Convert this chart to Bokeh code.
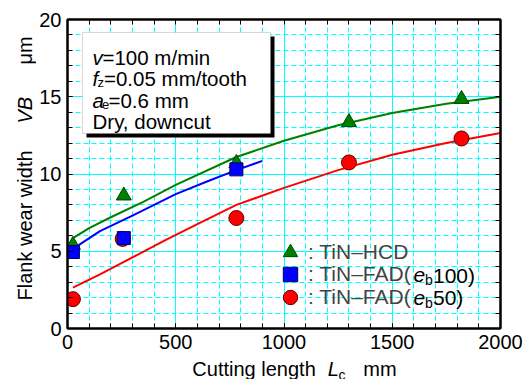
import math
from bokeh.plotting import figure
from bokeh.layouts import row, column
from bokeh.models import (Range1d, LinearAxis, FixedTicker, Grid, Label,
                          BoxAnnotation, Legend, LegendItem)
from bokeh.embed import file_html
from bokeh.resources import INLINE

# ---------------- data ----------------
hcd_L = [25, 260, 780, 1300, 1820]
hcd_VB = [5.4, 8.6, 10.7, 13.35, 14.85]
fad100_L = [25, 260, 780]
fad100_VB = [4.95, 5.85, 10.3]
fad50_L = [25, 255, 780, 1300, 1820]
fad50_VB = [1.9, 5.8, 7.15, 10.75, 12.3]

hcd_fit_L = [25, 100, 200, 350, 500, 780, 1000, 1250, 1500, 1750, 2000]
hcd_fit_VB = [5.85, 6.5, 7.2, 8.2, 9.3, 11.1, 12.15, 13.15, 13.95, 14.55, 15.0]
fad100_fit_L = [25, 150, 300, 500, 650, 780, 900]
fad100_fit_VB = [5.15, 6.3, 7.3, 8.7, 9.55, 10.25, 10.85]
fad50_fit_L = [25, 150, 300, 450, 600, 780, 1000, 1250, 1500, 1750, 2000]
fad50_fit_VB = [2.65, 3.5, 4.6, 5.7, 6.75, 8.0, 9.1, 10.25, 11.25, 12.0, 12.65]

x_ticks = [0, 500, 1000, 1500, 2000]
y_ticks = [0, 5, 10, 15, 20]
x_minor = list(range(0, 2001, 100))
y_minor = list(range(0, 21, 1))

series_labels = [": TiN\u2013HCD", ": TiN\u2013FAD(", ": TiN\u2013FAD("]

# ---------------- layout (canvas pixels) ----------------
W, H = 525, 379
LW = 36            # left strip holding the y title
BH = 19            # bottom strip holding the x title
PW, PH = W - LW, H - BH
FL, FR, FT, FB = 67, 500, 19, 328     # frame edges on the page
X0, X1, Y0, Y1 = 0, 2000, 0, 20
FONT = "Liberation Sans"

def dx(px):
    return X0 + (px - FL) / (FR - FL) * (X1 - X0)

def dy(py):
    return Y0 + (FB - py) / (FB - FT) * (Y1 - Y0)

def drop_default_grids(f):
    f.center = [r for r in f.center if not isinstance(r, Grid)]

p = figure(width=PW, height=PH, x_range=Range1d(X0, X1), y_range=Range1d(Y0, Y1),
           output_backend="svg", toolbar_location=None,
           min_border_left=FL - LW, min_border_right=W - FR,
           min_border_top=FT, min_border_bottom=PH - FB,
           x_axis_location=None, y_axis_location=None)
drop_default_grids(p)
p.outline_line_color = "black"
p.outline_line_width = 2
p.background_fill_color = "white"
p.border_fill_color = "white"

xt = FixedTicker(ticks=x_ticks, minor_ticks=x_minor)
yt = FixedTicker(ticks=y_ticks, minor_ticks=y_minor)
xt_nolab = FixedTicker(ticks=[], minor_ticks=x_minor)
yt_nolab = FixedTicker(ticks=[], minor_ticks=y_minor)

def mk_axis(ticker):
    ax = LinearAxis(ticker=ticker)
    ax.major_tick_in = 5
    ax.major_tick_out = 0
    ax.minor_tick_in = 5
    ax.minor_tick_out = 0
    ax.axis_line_color = "black"
    ax.axis_line_width = 2
    ax.major_tick_line_color = "black"
    ax.minor_tick_line_color = "black"
    ax.major_label_text_font = FONT
    ax.major_label_text_font_size = "20px"
    ax.major_label_text_color = "black"
    ax.major_label_standoff = 6
    return ax

p.add_layout(mk_axis(xt), "below")
p.add_layout(mk_axis(yt), "left")
p.add_layout(mk_axis(xt_nolab), "above")
p.add_layout(mk_axis(yt_nolab), "right")

for dim, tk in ((0, xt), (1, yt)):
    g = Grid(dimension=dim, ticker=tk)
    g.grid_line_color = "#00FFFF"
    g.grid_line_width = 1
    g.minor_grid_line_color = "#00FFFF"
    g.minor_grid_line_width = 1
    g.minor_grid_line_dash = "5 3"
    p.add_layout(g, "center")

# ---------------- curves & points ----------------
p.line(hcd_fit_L, hcd_fit_VB, line_color="#008000", line_width=2)
p.line(fad100_fit_L, fad100_fit_VB, line_color="#0000FF", line_width=2)
p.line(fad50_fit_L, fad50_fit_VB, line_color="#FF0000", line_width=2)

r_tri = p.scatter(hcd_L, hcd_VB, marker="triangle", size=15,
                  fill_color="#008000", line_color="#004000", line_width=1)
r_cir = p.scatter(fad50_L, fad50_VB, marker="circle", size=15,
                  fill_color="#FF0000", line_color="#600000", line_width=1)
r_sq = p.scatter(fad100_L, fad100_VB, marker="square", size=13,
                 fill_color="#0000FF", line_color="#000060", line_width=1)

# ---------------- legend (one single-item legend per row) ----------------
LEG_FS = 21
GL = 36                         # glyph box -> marker size 0.4*GL
BOX_LEFT = 272                  # page x of the glyph box
TEXT_X = BOX_LEFT + GL          # page x where the label starts
ROW_Y = [252, 274.5, 297]       # page y of the row centres
for lbl, rr, cy in zip(series_labels, [r_tri, r_sq, r_cir], ROW_Y):
    lg = Legend(items=[LegendItem(label=lbl, renderers=[rr])],
                location=(BOX_LEFT - FL, round(FB - (cy + GL / 2))),
                glyph_width=GL, glyph_height=GL, label_height=GL,
                spacing=0, padding=0, margin=0, label_standoff=0,
                label_text_font=FONT, label_text_font_size=f"{LEG_FS}px",
                border_line_alpha=0, background_fill_alpha=0)
    p.add_layout(lg, "center")

def lab(text, px, py, size="20px", style="normal", baseline="alphabetic", angle=0.0):
    p.add_layout(Label(x=dx(px), y=dy(py), text=text, text_font=FONT,
                       text_font_size=size, text_font_style=style, text_color="black",
                       text_align="left", text_baseline=baseline, angle=angle))

# legend: italic e, subscript b
e_x = TEXT_X + 5.0 * LEG_FS
for cy in ROW_Y[1:]:
    lab("e", e_x, cy, size=f"{LEG_FS}px", style="italic", baseline="middle")
    lab("b", e_x + 11.5, cy + 5, size="14px", baseline="middle")
lab("100)", e_x + 19.5, ROW_Y[1], size=f"{LEG_FS}px", baseline="middle")
lab("50)", e_x + 19.5, ROW_Y[2], size=f"{LEG_FS}px", baseline="middle")

# ---------------- condition box ----------------
p.add_layout(BoxAnnotation(left=dx(86), right=dx(274), top=dy(36), bottom=dy(137),
                           fill_color="black", fill_alpha=1, line_alpha=0))
p.add_layout(BoxAnnotation(left=dx(82), right=dx(270), top=dy(32), bottom=dy(133),
                           fill_color="white", fill_alpha=1, line_color="#808080",
                           line_width=1))
BF = "20.5px"
lab("v", 92, 57, size=BF, style="italic")
lab("=100 m/min", 102, 57, size=BF)
lab("f", 92, 78, size=BF, style="italic")
lab("z", 97, 82, size="13px")
lab("=0.05 mm/tooth", 103.5, 78, size=BF)
lab("a", 92, 100, size=BF, style="italic")
lab("e", 101.5, 104, size="13px")
lab("=0.6 mm", 108, 100, size=BF)
lab("Dry, downcut", 92, 121, size=BF)

# ---------------- strips holding the axis titles ----------------
# data coordinates of a strip: x = page x, y = H - page y
def strip(w, h, x_lo, y_lo):
    f = figure(width=w, height=h, x_range=Range1d(x_lo, x_lo + w),
               y_range=Range1d(y_lo, y_lo + h), output_backend="svg",
               toolbar_location=None, min_border=0,
               x_axis_location=None, y_axis_location=None)
    drop_default_grids(f)
    f.outline_line_color = None
    f.background_fill_color = "white"
    f.border_fill_color = "white"
    return f

def slab(f, text, px, py, size="20px", style="normal", angle=0.0):
    f.add_layout(Label(x=px, y=H - py, text=text, text_font=FONT, text_font_size=size,
                       text_font_style=style, text_color="black", text_align="left",
                       text_baseline="middle", angle=angle))

lf = strip(LW, H, 0, 0)
rot = math.pi / 2
YT_X = 24.5
slab(lf, "Flank wear width", YT_X, 300, angle=rot)
slab(lf, "VB", YT_X, 123, style="italic", angle=rot)
slab(lf, "\u03bcm", YT_X, 64, angle=rot)

bf = strip(PW, BH, LW, 0)
XT_Y = 368
slab(bf, "Cutting length", 177, XT_Y)
slab(bf, "L", 330, XT_Y, style="italic")
slab(bf, "c", 342, XT_Y + 6, size="14px")
slab(bf, "mm", 370, XT_Y)

layout = row(lf, column(p, bf, spacing=0), spacing=0)
open("out.html", "w").write(file_html(layout, INLINE))
